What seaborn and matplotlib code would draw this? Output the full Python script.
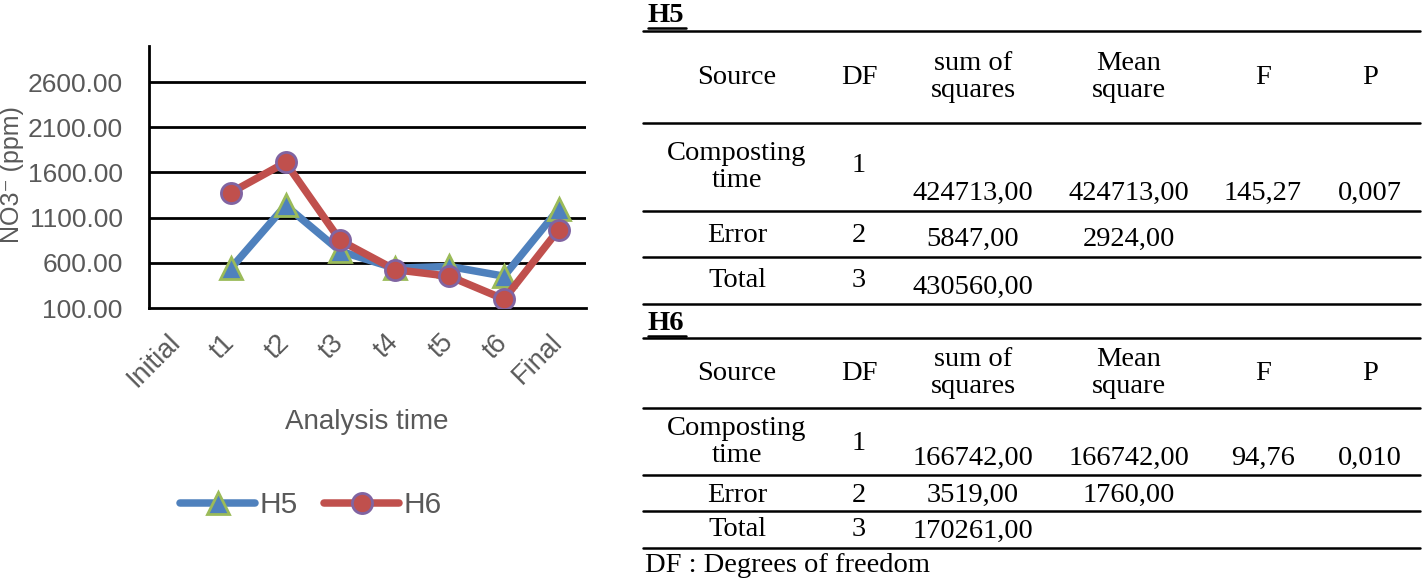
import numpy as np
import matplotlib
matplotlib.use("Agg")
import matplotlib.pyplot as plt
import seaborn as sns
from matplotlib.lines import Line2D

# ---------------- data ----------------
categories = ["Initial", "t1", "t2", "t3", "t4", "t5", "t6", "Final"]
h5_values = [np.nan, 540, 1235, 729, 540, 560, 452, 1195]
h6_values = [np.nan, 1378, 1711, 848, 525, 451, 197, 968]
y_ticks = [100, 600, 1100, 1600, 2100, 2600]
series_names = ["H5", "H6"]

table_header = ["Source", "DF", "sum of\nsquares", "Mean\nsquare", "F", "P"]
h5_rows = [
    ["Composting\ntime", "1", "424713,00", "424713,00", "145,27", "0,007"],
    ["Error", "2", "5847,00", "2924,00", "", ""],
    ["Total", "3", "430560,00", "", "", ""],
]
h6_rows = [
    ["Composting\ntime", "1", "166742,00", "166742,00", "94,76", "0,010"],
    ["Error", "2", "3519,00", "1760,00", "", ""],
    ["Total", "3", "170261,00", "", "", ""],
]
footnote = "DF : Degrees of freedom"

# ---------------- figure ----------------
W, H = 1424, 580
sns.set_style("white")
plt.rcParams['font.family'] = ['Liberation Sans', 'DejaVu Sans']
fig = plt.figure(figsize=(W / 100, H / 100), dpi=100)

def fx(px):
    return px / W

def fy(py):
    return 1 - py / H

gray = "#595959"
blue = "#4F81BD"
red = "#C0504D"
green = "#9BBB59"
purple = "#8064A2"

ax = fig.add_axes([fx(149), fy(308), fx(586) - fx(149), fy(46) - fy(308)])
x_pos = np.arange(len(categories))

sns.lineplot(x=x_pos, y=h5_values, ax=ax, color=blue, linewidth=5.4,
             marker="^", markersize=15.5, markerfacecolor=blue,
             markeredgecolor=green, markeredgewidth=2.0,
             solid_capstyle="round", label=series_names[0], zorder=3)
sns.lineplot(x=x_pos, y=h6_values, ax=ax, color=red, linewidth=5.4,
             marker="o", markersize=14.5, markerfacecolor=red,
             markeredgecolor=purple, markeredgewidth=2.0,
             solid_capstyle="round", label=series_names[1], zorder=4)

ax.set_xlim(-0.5, len(categories) - 0.5)
ax.set_ylim(100, 3000)
ax.set_yticks(y_ticks)
ax.set_yticklabels([f"{v:.2f}" for v in y_ticks])
ax.set_xticks(x_pos)
ax.set_xticklabels(categories, rotation=45, ha="right", va="center",
                   rotation_mode="anchor")
ax.tick_params(axis="both", length=0, labelsize=19.5, labelcolor=gray)
ax.tick_params(axis="y", labelsize=19, pad=19)
ax.tick_params(axis="x", pad=22)
ax.grid(False)
for v in y_ticks[1:]:
    ax.axhline(v, color="black", linewidth=2.0, zorder=1)
for side in ["top", "right"]:
    ax.spines[side].set_visible(False)
for side in ["left", "bottom"]:
    ax.spines[side].set_color("black")
    ax.spines[side].set_linewidth(2.0)
ax.set_xlabel("")
ax.set_ylabel("")
ax.set_facecolor("none")

fig.text(fx(0), fy(175), "NO3\u207b (ppm)", rotation=90, ha="left",
         va="center", fontsize=18, color=gray)
fig.text(fx(367), fy(422), "Analysis time", ha="center", va="center",
         fontsize=20, color=gray)

handles, labels = ax.get_legend_handles_labels()
if ax.legend_:
    ax.legend_.remove()
fig.legend(handles, labels, loc="center", bbox_to_anchor=(fx(311), fy(505)),
           ncol=2, frameon=False, fontsize=21.5, labelcolor=gray,
           handlelength=2.5, handletextpad=0.15, columnspacing=0.9,
           numpoints=1)

# ---------------- tables ----------------
serif = ['Liberation Serif', 'DejaVu Serif']
tfs = 20.5
col_x = [737, 859, 973, 1129, 1263, 1370]
rule_x0, rule_x1 = 643, 1420

def rule(y, lw=1.8):
    fig.add_artist(Line2D([fx(rule_x0), fx(rule_x1)], [fy(y), fy(y)],
                          color="black", linewidth=lw))

def ttext(x, y, s, **kw):
    fig.text(fx(x), fy(y), s, ha=kw.pop("ha", "center"), va="center",
             fontsize=kw.pop("fontsize", tfs), family=serif,
             linespacing=1.1, color="black", **kw)

def draw_table(title, rows, lay):
    ttext(648, lay["title"], title, ha="left", fontweight="bold")
    fig.add_artist(Line2D([fx(648), fx(686)], [fy(lay["title"] + 12)] * 2,
                          color="black", linewidth=1.8))
    rule(lay["top"])
    for cx, h in zip(col_x, table_header):
        ttext(cx, lay["header"], h)
    rule(lay["r_head"])
    for r, row in enumerate(rows):
        ylab, ydf, yval = lay["rows"][r]
        ttext(col_x[0], ylab, row[0])
        ttext(col_x[1], ydf, row[1])
        for c in range(2, 6):
            if row[c]:
                ttext(col_x[c], yval, row[c])
        rule(lay["rules"][r])

draw_table("H5", h5_rows, {
    "title": 16, "top": 31, "header": 77, "r_head": 123,
    "rows": [(167, 166, 193), (235, 235, 239), (280, 280, 287)],
    "rules": [211, 257, 304],
})
draw_table("H6", h6_rows, {
    "title": 324, "top": 338, "header": 373, "r_head": 408,
    "rows": [(442, 443, 458), (495, 495, 495), (530, 530, 531)],
    "rules": [475, 511, 548],
})
ttext(645, 565, footnote, ha="left")

fig.savefig("out.png", dpi=100)
